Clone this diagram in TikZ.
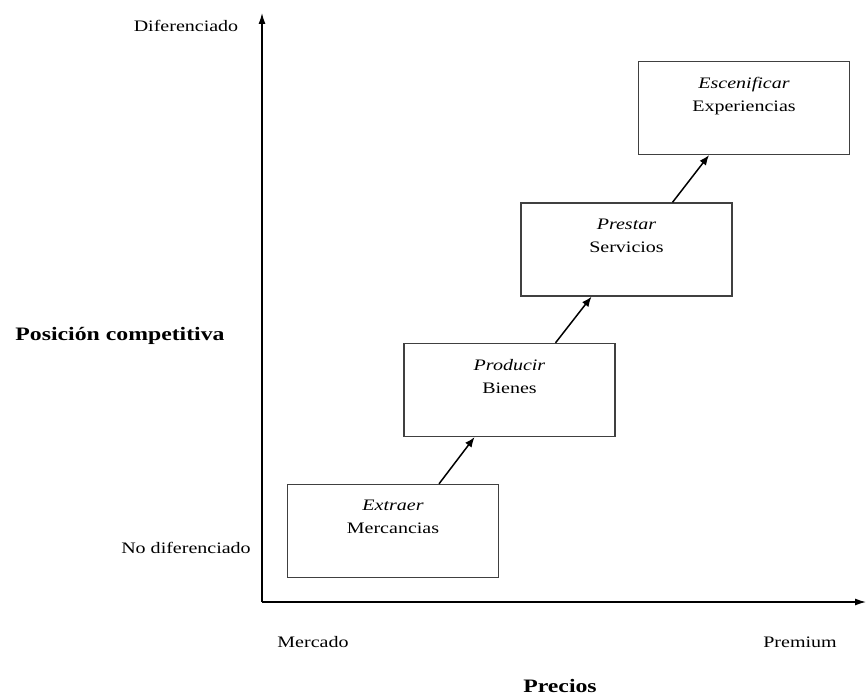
\documentclass[tikz,border=0pt]{standalone}
\usepackage{fontspec}
\setmainfont{Liberation Serif}[FakeStretch=1.25]
\usetikzlibrary{arrows.meta}

\begin{document}
\begin{tikzpicture}[x=1pt, y=-1pt,
    stage/.style={draw=black!75, line width=1.3pt, minimum width=211pt, minimum height=93pt, inner sep=0pt},
    stagetext/.style={anchor=north, align=center, font=\fontsize{16}{23}\selectfont, inner sep=0pt},
    axislabel/.style={anchor=base, font=\fontsize{16}{19}\selectfont},
    axistitle/.style={anchor=base, font=\fontsize{19}{22}\selectfont\bfseries},
    stepline/.style={line width=1.5pt, -{Latex[length=10pt, width=8pt]}}]
    \useasboundingbox (0,0) rectangle (866,700);

    % Axes
    \coordinate (origin) at (262,602);
    \coordinate (ytop) at (262,13);
    \coordinate (xend) at (866,602);
    \draw[line width=1.3pt, -{Latex[length=11pt, width=7pt]}] (origin) -- (ytop);
    \draw[line width=1.3pt, -{Latex[length=11pt, width=7pt]}] (origin) -- (xend);

    % Stages
    \node[stage] (b1) at (393,531) {};
    \node[stage] (b2) at (509.5,390) {};
    \node[stage] (b3) at (626.5,249.5) {};
    \node[stage] (b4) at (744,108) {};

    \node[stagetext] (t1) at ([yshift=-16pt]b1.north) {\textit{Extraer}\\Mercancias};
    \node[stagetext] (t2) at ([yshift=-16pt]b2.north) {\textit{Producir}\\Bienes};
    \node[stagetext] (t3) at ([yshift=-16pt]b3.north) {\textit{Prestar}\\Servicios};
    \node[stagetext] (t4) at ([yshift=-16pt]b4.north) {\textit{Escenificar}\\Experiencias};

    % Steps
    \draw[stepline] ([xshift=46pt]b1.north) -- ([xshift=-35pt]b2.south);
    \draw[stepline] ([xshift=46pt]b2.north) -- ([xshift=-35pt]b3.south);
    \draw[stepline] ([xshift=46pt]b3.north) -- ([xshift=-35pt]b4.south);

    % Labels
    \node[axislabel] (ydiff) at (186,32) {Diferenciado};
    \node[axislabel] (ynodiff) at (186,553) {No diferenciado};
    \node[axistitle] (ytitle) at (120,340) {Posición competitiva};
    \node[axislabel] (xmarket) at (313,647) {Mercado};
    \node[axislabel] (xpremium) at (800,647) {Premium};
    \node[axistitle] (xtitle) at (560,692) {Precios};
\end{tikzpicture}
\end{document}
